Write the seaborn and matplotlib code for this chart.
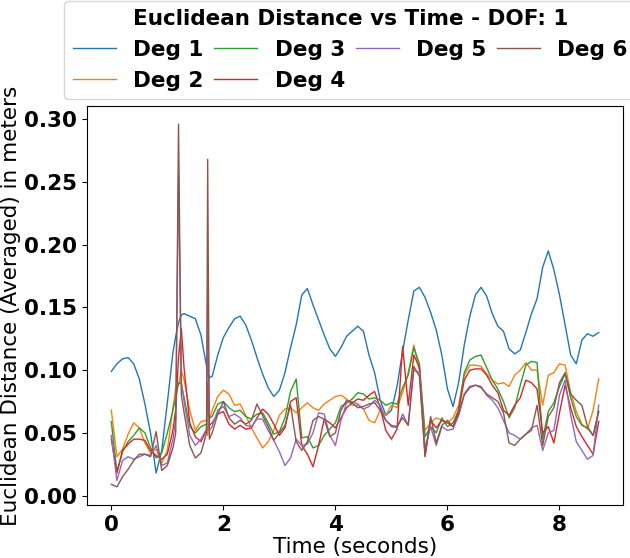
import matplotlib
matplotlib.use('Agg')
import matplotlib.pyplot as plt
import pandas as pd
import seaborn as sns

# time stamps (seconds), extra samples around the two spikes
time = [0.0, 0.1, 0.2, 0.3, 0.4, 0.5, 0.6, 0.7, 0.8, 0.9, 1.0, 1.1,
        1.15, 1.2, 1.25,
        1.3, 1.4, 1.5, 1.6, 1.7,
        1.72, 1.75,
        1.8, 1.9, 2.0, 2.1, 2.2, 2.3, 2.4, 2.5, 2.6, 2.7,
        2.8, 2.9, 3.0, 3.1, 3.2, 3.3, 3.4, 3.5, 3.6, 3.7,
        3.8, 3.9, 4.0, 4.1, 4.2, 4.3, 4.4, 4.5, 4.6, 4.7,
        4.8, 4.9, 5.0, 5.1, 5.2, 5.3, 5.4, 5.5, 5.6, 5.7,
        5.8, 5.9, 6.0, 6.1, 6.2, 6.3, 6.4, 6.5, 6.6, 6.7,
        6.8, 6.9, 7.0, 7.1, 7.2, 7.3, 7.4, 7.5, 7.6, 7.7,
        7.8, 7.9, 8.0, 8.1, 8.2, 8.3, 8.4, 8.5, 8.6, 8.7]

deg1 = [0.099, 0.105, 0.109, 0.110, 0.105, 0.093, 0.073, 0.050, 0.018, 0.036, 0.074, 0.114,
        0.127, 0.138, 0.144,
        0.145, 0.143, 0.141, 0.128, 0.103,
        0.098, 0.094,
        0.095, 0.112, 0.126, 0.134, 0.141, 0.143, 0.136, 0.124, 0.110, 0.097,
        0.086, 0.079, 0.084, 0.098, 0.118, 0.136, 0.160, 0.165, 0.152, 0.140,
        0.128, 0.117, 0.111, 0.118, 0.127, 0.131, 0.135, 0.131, 0.112, 0.098,
        0.076, 0.064, 0.068, 0.087, 0.115, 0.140, 0.163, 0.166, 0.158, 0.146,
        0.132, 0.112, 0.085, 0.071, 0.090, 0.120, 0.143, 0.160, 0.166, 0.159,
        0.145, 0.135, 0.131, 0.117, 0.113, 0.116, 0.130, 0.145, 0.157, 0.182,
        0.195, 0.180, 0.160, 0.136, 0.112, 0.105, 0.124, 0.129, 0.127, 0.130]

deg2 = [0.068, 0.031, 0.037, 0.049, 0.058, 0.054, 0.042, 0.034, 0.037, 0.026, 0.036, 0.070,
        0.086, 0.088, 0.100,
        0.092, 0.068, 0.052, 0.059, 0.060,
        0.048, 0.060,
        0.068, 0.079, 0.084, 0.081, 0.072, 0.073, 0.064, 0.054, 0.046, 0.038,
        0.043, 0.052, 0.064, 0.069, 0.070, 0.066, 0.070, 0.074, 0.070, 0.068,
        0.073, 0.076, 0.079, 0.080, 0.077, 0.072, 0.072, 0.069, 0.060, 0.058,
        0.068, 0.064, 0.072, 0.070, 0.082, 0.098, 0.120, 0.100, 0.052, 0.058,
        0.062, 0.060, 0.058, 0.062, 0.072, 0.096, 0.104, 0.104, 0.103, 0.097,
        0.092, 0.089, 0.090, 0.087, 0.096, 0.100, 0.106, 0.100, 0.100, 0.072,
        0.096, 0.098, 0.105, 0.104, 0.082, 0.067, 0.057, 0.053, 0.068, 0.093]

deg3 = [0.059, 0.019, 0.035, 0.043, 0.048, 0.054, 0.050, 0.038, 0.030, 0.034, 0.050, 0.068,
        0.078, 0.090, 0.089,
        0.078, 0.055, 0.050, 0.055, 0.057,
        0.090, 0.062,
        0.063, 0.073, 0.075, 0.070, 0.067, 0.068, 0.063, 0.061, 0.065, 0.066,
        0.058, 0.049, 0.051, 0.062, 0.083, 0.093, 0.046, 0.047, 0.038, 0.040,
        0.048, 0.053, 0.058, 0.071, 0.074, 0.077, 0.082, 0.081, 0.077, 0.078,
        0.076, 0.072, 0.074, 0.073, 0.086, 0.096, 0.118, 0.105, 0.047, 0.055,
        0.050, 0.062, 0.055, 0.058, 0.068, 0.098, 0.108, 0.111, 0.112, 0.102,
        0.092, 0.085, 0.075, 0.062, 0.070, 0.088, 0.104, 0.107, 0.106, 0.045,
        0.067, 0.074, 0.087, 0.097, 0.078, 0.063, 0.056, 0.054, 0.048, 0.067]

deg4 = [0.045, 0.018, 0.036, 0.041, 0.045, 0.045, 0.044, 0.036, 0.032, 0.029, 0.033, 0.052,
        0.069, 0.110, 0.133,
        0.101, 0.058, 0.047, 0.043, 0.052,
        0.088, 0.056,
        0.058, 0.065, 0.067, 0.057, 0.053, 0.056, 0.053, 0.054, 0.062, 0.069,
        0.065, 0.057, 0.048, 0.054, 0.075, 0.078, 0.040, 0.033, 0.023, 0.040,
        0.061, 0.058, 0.054, 0.062, 0.070, 0.074, 0.077, 0.076, 0.080, 0.083,
        0.070, 0.052, 0.045, 0.053, 0.119, 0.072, 0.112, 0.102, 0.031, 0.060,
        0.054, 0.060, 0.058, 0.055, 0.068, 0.092, 0.100, 0.101, 0.101, 0.096,
        0.088, 0.082, 0.068, 0.064, 0.072, 0.078, 0.092, 0.090, 0.085, 0.050,
        0.055, 0.042, 0.066, 0.088, 0.070, 0.055, 0.047, 0.040, 0.033, 0.059]

deg5 = [0.048, 0.012, 0.028, 0.031, 0.029, 0.031, 0.033, 0.032, 0.040, 0.024, 0.026, 0.045,
        0.061, 0.255, 0.090,
        0.075, 0.048, 0.040, 0.045, 0.053,
        0.155, 0.052,
        0.055, 0.068, 0.071, 0.063, 0.065, 0.062, 0.056, 0.055, 0.061, 0.061,
        0.052, 0.044, 0.035, 0.024, 0.030, 0.045, 0.040, 0.041, 0.050, 0.066,
        0.065, 0.048, 0.040, 0.060, 0.074, 0.075, 0.073, 0.069, 0.071, 0.076,
        0.072, 0.060, 0.055, 0.054, 0.065, 0.056, 0.100, 0.098, 0.038, 0.055,
        0.040, 0.055, 0.052, 0.053, 0.064, 0.080, 0.086, 0.088, 0.087, 0.080,
        0.076, 0.070, 0.060, 0.050, 0.048, 0.045, 0.049, 0.054, 0.056, 0.036,
        0.050, 0.052, 0.080, 0.092, 0.064, 0.043, 0.036, 0.029, 0.032, 0.072]

deg6 = [0.009, 0.007, 0.015, 0.021, 0.028, 0.033, 0.033, 0.031, 0.051, 0.020, 0.024, 0.038,
        0.050, 0.296, 0.080,
        0.066, 0.040, 0.030, 0.034, 0.050,
        0.268, 0.045,
        0.050, 0.065, 0.075, 0.062, 0.057, 0.060, 0.057, 0.060, 0.073, 0.064,
        0.055, 0.044, 0.050, 0.056, 0.072, 0.043, 0.036, 0.043, 0.060, 0.063,
        0.061, 0.047, 0.050, 0.068, 0.076, 0.074, 0.070, 0.071, 0.073, 0.074,
        0.068, 0.060, 0.056, 0.055, 0.062, 0.056, 0.103, 0.095, 0.032, 0.063,
        0.042, 0.056, 0.060, 0.055, 0.065, 0.081, 0.087, 0.088, 0.086, 0.081,
        0.078, 0.075, 0.066, 0.042, 0.040, 0.045, 0.049, 0.052, 0.072, 0.040,
        0.063, 0.070, 0.090, 0.098, 0.081, 0.076, 0.072, 0.055, 0.048, 0.067]

labels = ['Deg 1', 'Deg 2', 'Deg 3', 'Deg 4', 'Deg 5', 'Deg 6']
series = [deg1, deg2, deg3, deg4, deg5, deg6]

# long-form table for seaborn
df = pd.concat([pd.DataFrame({'time': time, 'dist': vals, 'deg': name})
                for name, vals in zip(labels, series)], ignore_index=True)

fig, ax = plt.subplots(figsize=(6.3, 5.58), dpi=100)
fig.subplots_adjust(left=0.138, right=0.989, bottom=0.095, top=0.810)

sns.lineplot(data=df, x='time', y='dist', hue='deg', hue_order=labels,
             palette=sns.color_palette('tab10', 6), linewidth=1, ax=ax)

fs = 15.5
ax.set_xticks([0, 2, 4, 6, 8])
ax.set_yticks([0.00, 0.05, 0.10, 0.15, 0.20, 0.25, 0.30])
ax.set_yticklabels([f'{v:.2f}' for v in ax.get_yticks()])
ax.tick_params(labelsize=fs)
for lbl in ax.get_xticklabels() + ax.get_yticklabels():
    lbl.set_fontweight('bold')
ax.set_xlabel('Time (seconds)', fontsize=fs, labelpad=2)
ax.set_ylabel('Euclidean Distance (Averaged) in meters', fontsize=fs, labelpad=2)

# legend sits above the axes, up against the right edge
handles, names = ax.get_legend_handles_labels()
ax.legend(handles, names, ncol=4, loc='upper center',
          bbox_to_anchor=(0.556, 0.999), bbox_transform=fig.transFigure,
          borderaxespad=0, columnspacing=0.5,
          title='Euclidean Distance vs Time - DOF: 1',
          prop={'weight': 'bold', 'size': fs},
          title_fontproperties={'weight': 'bold', 'size': fs})

fig.savefig('out.png', dpi=100)
